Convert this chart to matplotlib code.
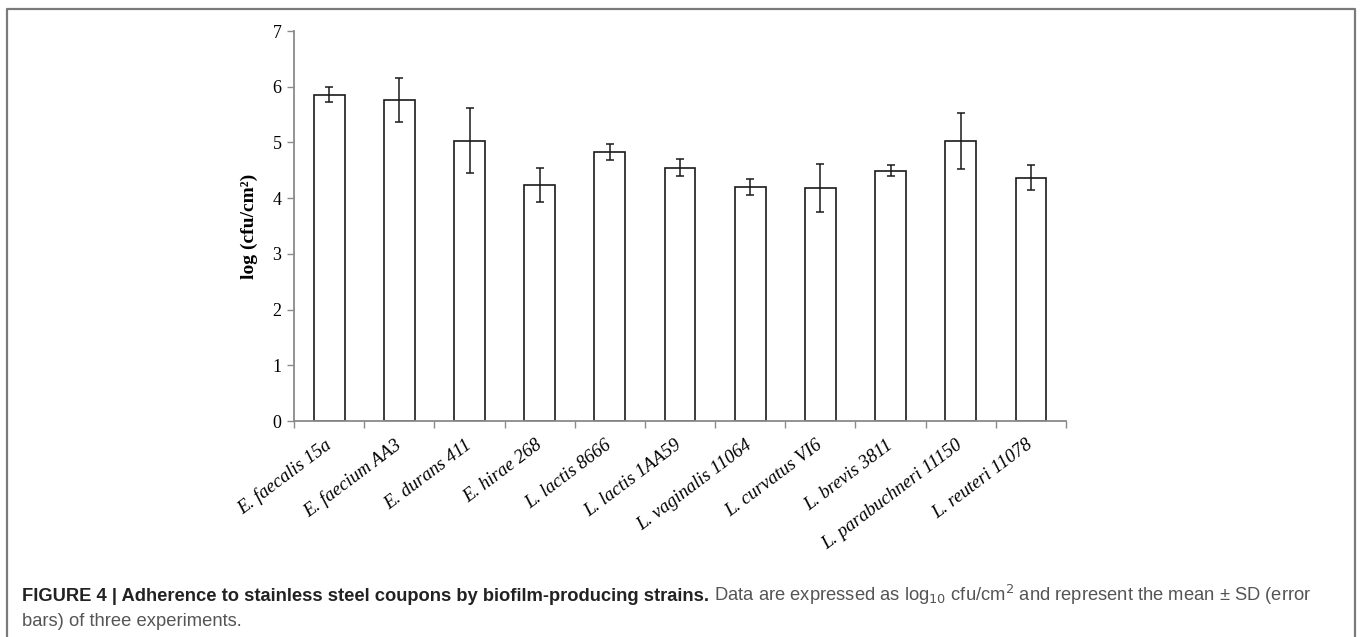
#!/usr/bin/env python3
"""
Adhérence aux coupons en acier inoxydable - souches productrices de biofilm
"""
import numpy as np
import matplotlib
matplotlib.use("Agg")
import matplotlib.pyplot as plt
import matplotlib.transforms as mtransforms
from matplotlib.lines import Line2D
from matplotlib.ticker import FixedLocator

# Souches et moyennes log10 cfu/cm2 (+ écart-type)
strains = ["E. faecalis 15a", "E. faecium AA3", "E. durans 411", "E. hirae 268",
           "L. lactis 8666", "L. lactis 1AA59", "L. vaginalis 11064",
           "L. curvatus VI6", "L. brevis 3811", "L. parabuchneri 11150",
           "L. reuteri 11078"]
means = [5.86, 5.76, 5.03, 4.24, 4.83, 4.55, 4.20, 4.19, 4.49, 5.03, 4.37]
sds = [0.14, 0.40, 0.58, 0.31, 0.14, 0.15, 0.14, 0.43, 0.10, 0.50, 0.23]
yticks = [0, 1, 2, 3, 4, 5, 6, 7]

GREY = "#8a8a8a"
W, H = 1362, 637

fig = plt.figure(figsize=(W / 100, H / 100), dpi=100)
ax = fig.add_axes([0.2159, 0.339, 0.5668, 0.6123])

x = np.arange(len(strains))
ax.bar(x, means, width=0.44, color="white", edgecolor="#1a1a1a", linewidth=1.2, zorder=2)
ax.errorbar(x, means, yerr=sds, fmt="none", ecolor="#1a1a1a", elinewidth=1.1,
            capsize=2.8, capthick=1.1, zorder=3)

ax.set_xlim(-0.5, len(strains) - 0.5)
ax.set_ylim(0, 7)
ax.set_yticks(yticks)
ax.set_yticklabels([str(v) for v in yticks], family="Liberation Serif", fontsize=13)

# ticks de catégorie aux frontières, libellés au centre
ax.set_xticks(x)
ax.set_xticklabels(strains, family="Liberation Serif", style="italic", fontsize=13.5,
                   rotation=37, ha="right", va="center", rotation_mode="anchor")
shift = mtransforms.ScaledTranslation(-6 / 100, 0, fig.dpi_scale_trans)
for lbl in ax.get_xticklabels():
    lbl.set_transform(lbl.get_transform() + shift)
ax.xaxis.set_minor_locator(FixedLocator(np.arange(-0.5, len(strains), 1.0)))
ax.tick_params(axis="x", which="major", length=0, pad=16)
ax.tick_params(axis="x", which="minor", length=5, width=1, color=GREY, direction="out")
ax.tick_params(axis="y", length=5, width=1, color=GREY, direction="out", pad=4)

for side in ("top", "right"):
    ax.spines[side].set_visible(False)
for side in ("left", "bottom"):
    ax.spines[side].set_color(GREY)
    ax.spines[side].set_linewidth(1.3)

ax.set_ylabel("log (cfu/cm²)", family="Liberation Serif", fontweight="bold", fontsize=14)
ax.yaxis.set_label_coords(-0.047, 0.5)

# cadre de la figure (ouvert en bas)
fx0, fx1, fy = 7 / W, 1355 / W, 1 - 9 / H
frame = Line2D([fx0, fx0, fx1, fx1], [0, fy, fy, 0], transform=fig.transFigure,
               color="#7a7a7a", linewidth=1.6)
fig.add_artist(frame)

# légende de la figure, taille ajustée pour tenir sur la largeur
cap_font = "Liberation Sans"
bold_txt = "FIGURE 4 | Adherence to stainless steel coupons by biofilm-producing strains."
rest_txt = " Data are expressed as log$_{10}$ cfu/cm$^2$ and represent the mean \u00b1 SD (error"
x0 = 22 / W
y1 = 1 - 601 / H
y2 = 1 - 626 / H
target = 1309 - 22

size = 14.0
t1 = fig.text(x0, y1, bold_txt, family=cap_font, fontweight="bold",
              color="#222222", va="baseline")
t2 = fig.text(x0, y1, rest_txt, family=cap_font, color="#555555", va="baseline")
t3 = fig.text(x0, y2, "bars) of three experiments.", family=cap_font,
              color="#555555", va="baseline")
renderer = fig.canvas.get_renderer()
for _ in range(3):
    for t in (t1, t2, t3):
        t.set_fontsize(size)
    b1 = t1.get_window_extent(renderer)
    t2.set_x(b1.x1 / W)
    b2 = t2.get_window_extent(renderer)
    size = size * target / (b2.x1 - b1.x0)

fig.savefig("out.png", dpi=100)
